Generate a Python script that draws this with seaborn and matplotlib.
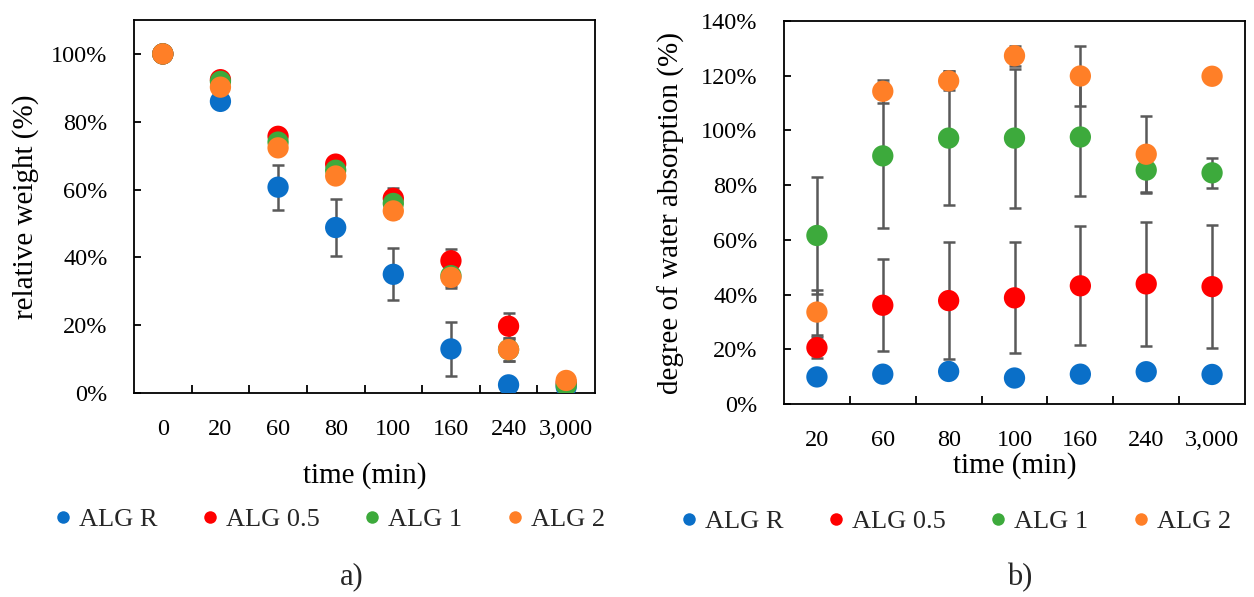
import numpy as np
import pandas as pd
import matplotlib
matplotlib.use("Agg")
import matplotlib.pyplot as plt
from matplotlib.ticker import PercentFormatter, FixedLocator
from matplotlib.lines import Line2D
import seaborn as sns

# ---------------- data ----------------
series = ["ALG R", "ALG 0.5", "ALG 1", "ALG 2"]
colors = ["#0a6fc8", "#ff0000", "#3daa3c", "#ff7f27"]

# panel a) relative weight (%)
times_a = ["0", "20", "60", "80", "100", "160", "240", "3,000"]
weight_R = [100, 86.0, 60.7, 48.8, 35.0, 13.0, 2.4, 1.8]
weight_05 = [100, 92.4, 75.7, 67.5, 57.4, 39.0, 19.7, 3.0]
weight_1 = [100, 91.9, 74.0, 65.7, 55.9, 34.6, 12.8, 2.3]
weight_2 = [100, 90.2, 72.3, 64.0, 53.7, 34.1, 12.8, 3.7]
werr_R = [0, 1.5, 6.6, 8.3, 7.7, 8.0, 1.0, 0.5]
werr_05 = [0, 1.0, 1.5, 1.5, 3.0, 3.4, 4.0, 0.5]
werr_1 = [0, 1.0, 1.5, 1.5, 2.0, 3.0, 3.3, 0.5]
werr_2 = [0, 1.0, 1.5, 1.5, 2.0, 3.0, 3.3, 0.5]

# panel b) degree of water absorption (%)
times_b = ["20", "60", "80", "100", "160", "240", "3,000"]
abs_R = [9.9, 10.9, 11.9, 9.5, 10.9, 11.8, 10.8]
abs_05 = [20.6, 36.1, 37.8, 38.8, 43.2, 43.9, 42.9]
abs_1 = [61.6, 90.7, 97.2, 97.2, 97.6, 85.5, 84.5]
abs_2 = [33.6, 114.3, 118.1, 127.3, 119.9, 91.3, 119.8]
aerr_R = [1.0, 1.0, 1.0, 1.0, 1.0, 1.0, 1.0]
aerr_05 = [3.9, 16.8, 21.3, 20.3, 21.8, 22.6, 22.4]
aerr_1 = [21.4, 26.5, 24.5, 25.4, 21.7, 8.5, 5.4]
aerr_2 = [8.2, 4.1, 3.5, 3.6, 11.0, 13.8, 1.0]


def long_frame(times, vals, errs):
    rows = []
    for name, v, e in zip(series, vals, errs):
        for i, t in enumerate(times):
            rows.append({"pos": i, "time": t, "value": v[i], "err": e[i], "series": name})
    return pd.DataFrame(rows)


df_a = long_frame(times_a, [weight_R, weight_05, weight_1, weight_2],
                  [werr_R, werr_05, werr_1, werr_2])
df_b = long_frame(times_b, [abs_R, abs_05, abs_1, abs_2],
                  [aerr_R, aerr_05, aerr_1, aerr_2])

# ---------------- style ----------------
sns.set_theme(style="white")
plt.rcParams["font.family"] = ["Liberation Serif", "DejaVu Serif"]
plt.rcParams["axes.edgecolor"] = "black"

fig = plt.figure(figsize=(12.54, 5.97), dpi=100)
W, H = 1254, 597
ax_a = fig.add_axes([134 / W, (H - 393) / H, 461 / W, 373 / H])
ax_b = fig.add_axes([784 / W, (H - 404) / H, 461 / W, 383 / H])

pal = dict(zip(series, colors))
TICK_FS = 17.5
LABEL_FS = 21


def draw(ax, df, times, ymax, ytop, ylabel, ylab_x, xlab_y):
    for name in series:
        d = df[df["series"] == name]
        ax.errorbar(d["pos"], d["value"], yerr=d["err"], fmt="none",
                    ecolor="#595959", elinewidth=1.8, capsize=4, capthick=1.8,
                    zorder=1)
    sns.scatterplot(data=df, x="pos", y="value", hue="series", palette=pal,
                    hue_order=series, s=235, linewidth=0, alpha=1,
                    legend=False, ax=ax, zorder=3)
    n = len(times)
    ax.set_xlim(-0.5, n - 0.5)
    ax.set_ylim(0, ymax)
    ax.set_xticks(range(n))
    ax.set_xticklabels(times)
    ax.xaxis.set_minor_locator(FixedLocator(np.arange(0.5, n - 1, 1.0)))
    ax.set_yticks(np.arange(0, ytop + 1, 20))
    ax.yaxis.set_major_formatter(PercentFormatter(xmax=100, decimals=0))
    ax.tick_params(axis="x", which="major", length=0, pad=19,
                   labelsize=TICK_FS, labelcolor="black")
    ax.tick_params(axis="x", which="minor", direction="in", length=6,
                   width=1.3, color="black", bottom=True)
    ax.tick_params(axis="y", which="major", direction="in", length=5,
                   width=1.3, color="black", left=True, pad=19,
                   labelsize=TICK_FS, labelcolor="black")
    for sp in ax.spines.values():
        sp.set_visible(True)
        sp.set_color("black")
        sp.set_linewidth(1.3)
    ax.set_xlabel("time (min)", fontsize=LABEL_FS, color="black")
    ax.set_ylabel(ylabel, fontsize=LABEL_FS, color="black")
    ax.yaxis.set_label_coords(ylab_x, 0.5)
    ax.xaxis.set_label_coords(0.5, xlab_y)
    ax.grid(False)


draw(ax_a, df_a, times_a, 110, 100, "relative weight (%)", -0.205, -0.185)
draw(ax_b, df_b, times_b, 140, 140, "degree of water absorption (%)", -0.215, -0.125)

handles = [Line2D([], [], marker="o", linestyle="none", markersize=9,
                  markerfacecolor=c, markeredgewidth=0) for c in colors]

for cx, cy in [(330 / W, 1 - 519 / H), (956 / W, 1 - 521 / H)]:
    fig.legend(handles, series, loc="center", bbox_to_anchor=(cx, cy), ncol=4,
               frameon=False, fontsize=19, handlelength=0.6, handletextpad=0.3,
               columnspacing=1.7, borderpad=0)

fig.text(352 / W, 1 - 577 / H, "a)", fontsize=22, ha="center", va="center")
fig.text(1020 / W, 1 - 578 / H, "b)", fontsize=22, ha="center", va="center")

fig.savefig("out.png", dpi=100)
